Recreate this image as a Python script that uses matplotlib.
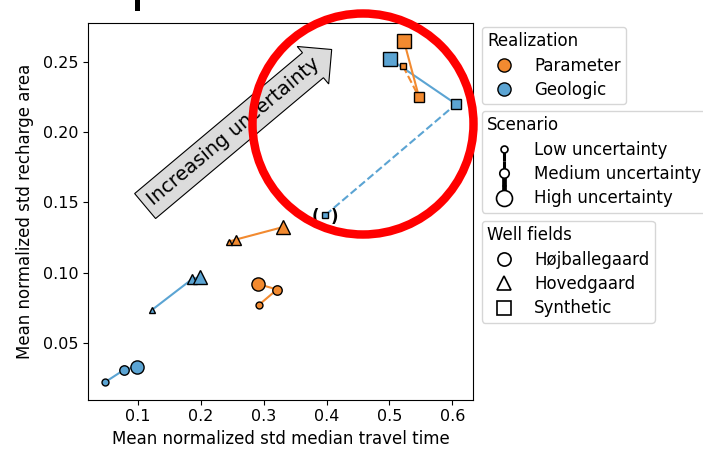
import matplotlib
matplotlib.use("Agg")
import matplotlib.pyplot as plt
from matplotlib.lines import Line2D
from matplotlib.legend_handler import HandlerBase
from matplotlib.patches import Ellipse, Rectangle

ORANGE = "#f28a30"
BLUE = "#5ba4d3"

scenarios = ["Low uncertainty", "Medium uncertainty", "High uncertainty"]
realizations = ["Parameter", "Geologic"]
well_fields = ["Højballegaard", "Hovedgaard", "Synthetic"]

# Mean normalized std of median travel time (x) and of recharge area (y),
# ordered low / medium / high uncertainty
hoj_param_x = [0.292, 0.321, 0.290]
hoj_param_y = [0.077, 0.088, 0.092]
hoj_geo_x = [0.047, 0.078, 0.098]
hoj_geo_y = [0.022, 0.031, 0.033]
hov_param_x = [0.244, 0.255, 0.331]
hov_param_y = [0.122, 0.1235, 0.1325]
hov_geo_x = [0.122, 0.186, 0.199]
hov_geo_y = [0.0735, 0.0955, 0.097]
syn_param_x = [0.5215, 0.547, 0.523]
syn_param_y = [0.247, 0.225, 0.265]
syn_geo_x = [0.398, 0.606, 0.501]
syn_geo_y = [0.141, 0.220, 0.252]

marker_sizes = [5, 6.8, 9.5]

series = [
    (hoj_geo_x, hoj_geo_y, BLUE, "o", False),
    (hov_geo_x, hov_geo_y, BLUE, "^", False),
    (syn_geo_x, syn_geo_y, BLUE, "s", True),
    (hoj_param_x, hoj_param_y, ORANGE, "o", False),
    (hov_param_x, hov_param_y, ORANGE, "^", False),
    (syn_param_x, syn_param_y, ORANGE, "s", True),
]

fig = plt.figure(figsize=(7.03, 4.5), dpi=100)
ax = fig.add_axes([88 / 703, 1 - 399.5 / 450, 385 / 703, 376.5 / 450])

for x, y, color, marker, dashed in series:
    ax.plot(x[0:2], y[0:2], color=color, lw=1.5, ls="--" if dashed else "-", zorder=2)
    ax.plot(x[1:3], y[1:3], color=color, lw=1.5, ls="-", zorder=2)
for x, y, color, marker, dashed in series:
    for i in range(3):
        ax.plot(x[i], y[i], ls="none", marker=marker, ms=marker_sizes[i],
                mfc=color, mec="k", mew=1.0, zorder=3)

# brackets around the low-uncertainty synthetic geologic point
ax.text(syn_geo_x[0], syn_geo_y[0], "(  )", ha="center", va="center_baseline",
        fontsize=12, fontweight="bold", zorder=4)

ax.set_xlim(0.020, 0.633)
ax.set_ylim(0.0097, 0.2777)
ax.set_xticks([0.1, 0.2, 0.3, 0.4, 0.5, 0.6])
ax.set_yticks([0.05, 0.10, 0.15, 0.20, 0.25])
ax.tick_params(labelsize=11.5)
ax.set_xlabel("Mean normalized std median travel time", fontsize=12)
ax.set_ylabel("Mean normalized std recharge area", fontsize=12, labelpad=6)

ax.text(0.2525, 0.2005, "Increasing uncertainty", rotation=40,
        rotation_mode="anchor", ha="center", va="center", fontsize=14, zorder=5,
        bbox=dict(boxstyle="rarrow,pad=0.35", fc="#dcdcdc", ec="k", lw=0.8))

# highlight ring around the synthetic cluster
fig.add_artist(Ellipse((363 / 703, 1 - 124 / 450), 221 / 703, 221 / 450,
                       transform=fig.transFigure, fill=False, ec="#ff0000",
                       lw=6.1, zorder=10))
fig.add_artist(Rectangle((135 / 703, 1 - 11 / 450), 5 / 703, 11 / 450,
                         transform=fig.transFigure, fc="k", ec="none"))


class ScenarioHandler(HandlerBase):
    def __init__(self, ms, up_lw=None, down_lw=None):
        super().__init__()
        self.ms = ms
        self.up_lw = up_lw
        self.down_lw = down_lw

    def create_artists(self, legend, orig_handle, xdescent, ydescent,
                       width, height, fontsize, trans):
        cx = -xdescent + width / 2
        cy = (height - ydescent) / 2
        ext = 0.75 * fontsize
        artists = []
        if self.up_lw:
            artists.append(Line2D([cx, cx], [cy, cy + ext], color="k",
                                  lw=self.up_lw, solid_capstyle="butt", transform=trans))
        if self.down_lw:
            artists.append(Line2D([cx, cx], [cy, cy - ext], color="k",
                                  lw=self.down_lw, solid_capstyle="butt", transform=trans))
        artists.append(Line2D([cx], [cy], ls="none", marker="o", ms=self.ms,
                              mfc="white", mec="k", mew=1.2, transform=trans))
        return artists


leg_kw = dict(loc="upper left", bbox_transform=fig.transFigure, borderaxespad=0,
              fontsize=12, title_fontsize=12, alignment="left",
              labelspacing=0.38, borderpad=0.32)

real_handles = [Line2D([], [], ls="none", marker="o", ms=9.5, mfc=c, mec="k", mew=1.0)
                for c in (ORANGE, BLUE)]
leg1 = ax.legend(real_handles, realizations, title="Realization",
                 bbox_to_anchor=(482 / 703, 1 - 27 / 450), **leg_kw)
ax.add_artist(leg1)

scen_handles = [Line2D([], []) for _ in scenarios]
scen_map = {
    scen_handles[0]: ScenarioHandler(5.0, down_lw=2.2),
    scen_handles[1]: ScenarioHandler(6.8, up_lw=2.2, down_lw=3.4),
    scen_handles[2]: ScenarioHandler(11.5, up_lw=3.4),
}
leg2 = ax.legend(scen_handles, scenarios, title="Scenario", handler_map=scen_map,
                 bbox_to_anchor=(482 / 703, 1 - 111 / 450), **leg_kw)
ax.add_artist(leg2)

well_handles = [Line2D([], [], ls="none", marker=m, ms=9.5, mfc="white", mec="k", mew=1.2)
                for m in ("o", "^", "s")]
ax.legend(well_handles, well_fields, title="Well fields",
          bbox_to_anchor=(482 / 703, 1 - 221 / 450), **leg_kw)

fig.savefig("out.png", dpi=100)
